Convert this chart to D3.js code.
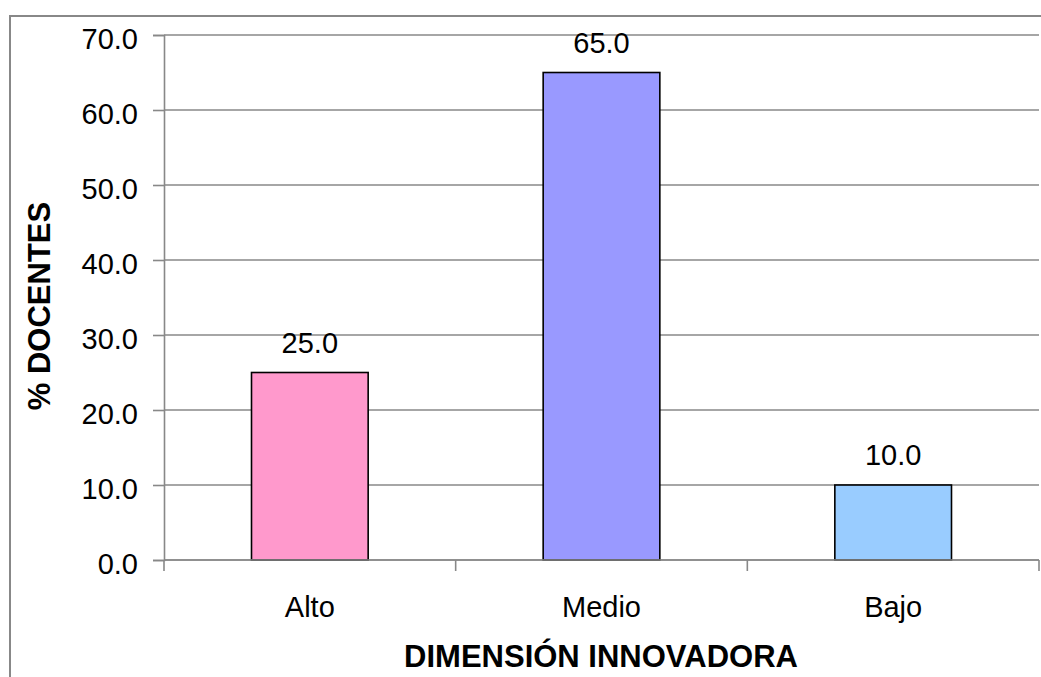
<!DOCTYPE html>
<html>
<head>
<meta charset="utf-8">
<script src="https://cdn.jsdelivr.net/npm/d3@7"></script>
<style>
  html, body { margin: 0; padding: 0; background: #fff; }
  svg { display: block; }
  text { font-family: "Liberation Sans", Arial, sans-serif; fill: #000; }
</style>
</head>
<body>
<svg id="chart" width="1041" height="677"></svg>
<script>
const categories = ["Alto", "Medio", "Bajo"];
const values = [25.0, 65.0, 10.0];
const barColors = ["#FF99CC", "#9999FF", "#99CCFF"];
const yTicks = [0, 10, 20, 30, 40, 50, 60, 70];
const xTitle = "DIMENSIÓN INNOVADORA";
const yTitle = "% DOCENTES";

(function () {
const svg = d3.select("#chart");
const plotLeft = 164, plotRight = 1039, plotTop = 35, plotBottom = 560;

// outer frame
svg.append("rect")
  .attr("x", 10).attr("y", 16)
  .attr("width", 1100).attr("height", 800)
  .attr("fill", "#fff").attr("stroke", "#888").attr("stroke-width", 2);

const x = d3.scaleBand().domain(categories).range([plotLeft, plotRight])
  .paddingInner(0.6).paddingOuter(0.3);
const y = d3.scaleLinear().domain([0, 70]).range([plotBottom, plotTop]);

// gridlines
svg.append("g").selectAll("line").data(yTicks).join("line")
  .attr("x1", plotLeft).attr("x2", plotRight)
  .attr("y1", d => y(d)).attr("y2", d => y(d))
  .attr("stroke", "#888").attr("stroke-width", 1.6);

// y axis
const yAxis = d3.axisLeft(y).tickValues(yTicks).tickSize(11).tickPadding(15)
  .tickFormat(d3.format(".1f"));
const gy = svg.append("g").attr("transform", `translate(${plotLeft},0)`).call(yAxis);
gy.select(".domain").attr("stroke", "#888").attr("stroke-width", 1.6);
gy.selectAll(".tick line").attr("stroke", "#888").attr("stroke-width", 1.6);
gy.selectAll(".tick text").attr("font-size", 29).attr("font-family", "Liberation Sans, Arial, sans-serif")
  .attr("fill", "#000").attr("dy", "0.38em").attr("y", 2);

// bars
svg.append("g").selectAll("rect").data(categories).join("rect")
  .attr("x", d => x(d)).attr("width", x.bandwidth())
  .attr("y", (d, i) => y(values[i]))
  .attr("height", (d, i) => y(0) - y(values[i]))
  .attr("fill", (d, i) => barColors[i])
  .attr("stroke", "#000").attr("stroke-width", 1.6);

// x axis
const xBoundaries = d3.range(categories.length + 1).map(i => plotLeft + i * x.step());
const gx = svg.append("g");
gx.append("line").attr("x1", plotLeft).attr("x2", plotRight).attr("y1", plotBottom).attr("y2", plotBottom)
  .attr("stroke", "#888").attr("stroke-width", 1.6);
gx.selectAll("line.tk").data(xBoundaries).join("line").attr("class", "tk")
  .attr("x1", d => d).attr("x2", d => d).attr("y1", plotBottom).attr("y2", plotBottom + 11)
  .attr("stroke", "#888").attr("stroke-width", 1.6);
gx.selectAll("text").data(categories).join("text")
  .attr("x", d => x(d) + x.bandwidth() / 2).attr("y", 617)
  .attr("text-anchor", "middle").attr("font-size", 29).text(d => d);

// value labels
svg.append("g").selectAll("text").data(categories).join("text")
  .attr("x", d => x(d) + x.bandwidth() / 2)
  .attr("y", (d, i) => y(values[i]) - 20)
  .attr("text-anchor", "middle").attr("font-size", 29)
  .text((d, i) => d3.format(".1f")(values[i]));

// axis titles
svg.append("text").attr("x", 601).attr("y", 667)
  .attr("text-anchor", "middle").attr("font-size", 31).attr("font-weight", "bold")
  .text(xTitle);
svg.append("text").attr("transform", "translate(50,306) rotate(-90)")
  .attr("text-anchor", "middle").attr("font-size", 31).attr("font-weight", "bold")
  .text(yTitle);
})();
</script>
</body>
</html>
